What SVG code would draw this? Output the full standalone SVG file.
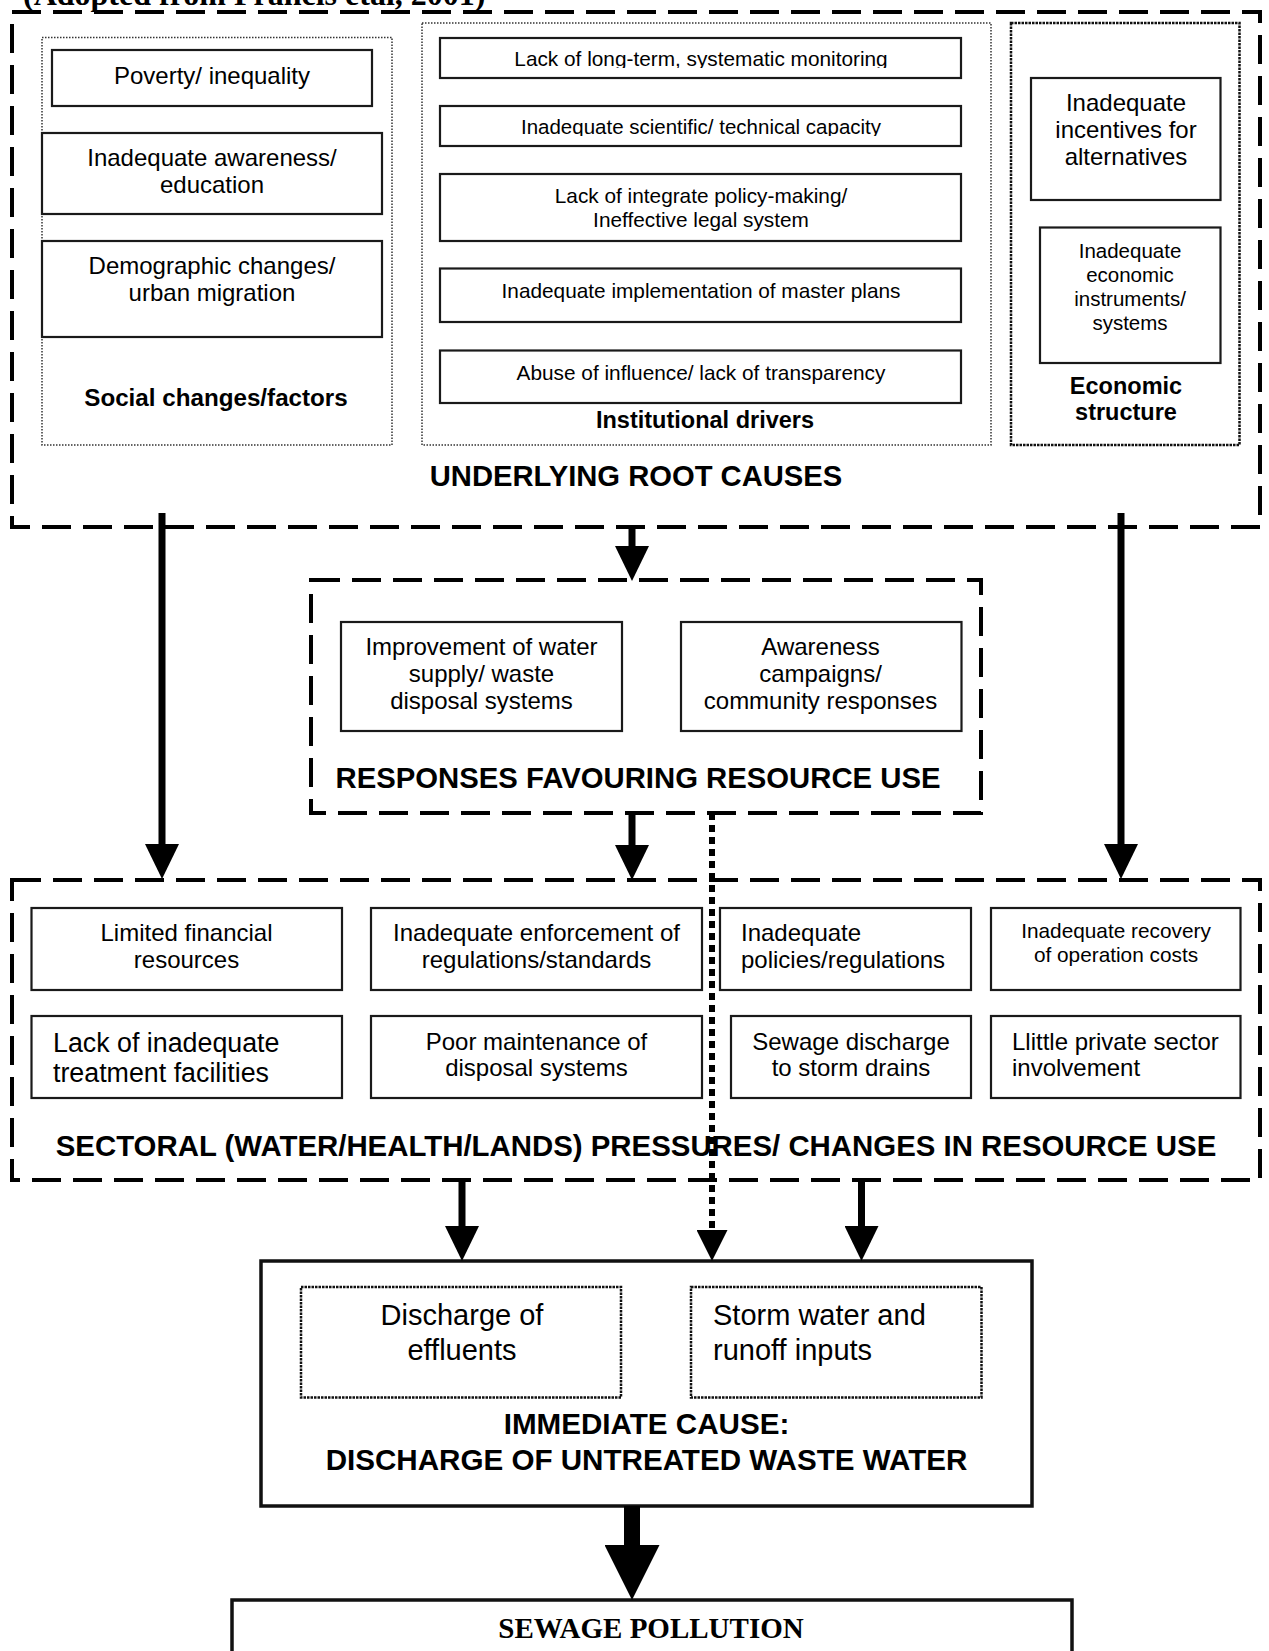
<svg xmlns="http://www.w3.org/2000/svg" width="1269" height="1651" viewBox="0 0 1269 1651">
<style>
.dash{fill:none;stroke:#000;stroke-width:4;stroke-dasharray:29 12}
.dot{fill:none;stroke:#333;stroke-width:1.5;stroke-dasharray:1.5 1.5}
.dot2{fill:none;stroke:#111;stroke-width:2.5;stroke-dasharray:2.5 1}
.box{fill:#fff;stroke:#1a1a1a;stroke-width:2.2}
.solid{fill:#fff;stroke:#111;stroke-width:3.5}
.t{font-family:"Liberation Sans",Arial,sans-serif;fill:#000}
.b{font-weight:bold}
.c{text-anchor:middle}
.shaft{stroke:#000;stroke-width:7;fill:none}
.dline{stroke:#000;stroke-width:6;stroke-dasharray:7 5;fill:none}
</style>
<defs>
<marker id="head" markerUnits="userSpaceOnUse" viewBox="0 0 35 34" refX="0" refY="17" markerWidth="35" markerHeight="34" orient="auto"><path d="M0,0 L35,17 L0,34 z" fill="#000"/></marker>
<marker id="headS" markerUnits="userSpaceOnUse" viewBox="0 0 31 31" refX="0" refY="15.5" markerWidth="31" markerHeight="31" orient="auto"><path d="M0,0 L31,15.5 L0,31 z" fill="#000"/></marker>
<marker id="headL" markerUnits="userSpaceOnUse" viewBox="0 0 55 55" refX="0" refY="27.5" markerWidth="55" markerHeight="55" orient="auto"><path d="M0,0 L55,27.5 L0,55 z" fill="#000"/></marker>
<clipPath id="clip1"><rect x="440" y="38" width="521" height="30"/></clipPath>
<clipPath id="clip2"><rect x="440" y="106" width="521" height="30"/></clipPath>
</defs>

<text x="23" y="5" font-family="'Liberation Serif','Times New Roman',serif" font-weight="bold" font-size="32">(Adopted from Francis etal, 2001)</text>

<g id="root-causes">
<rect class="dash" x="12" y="12" width="1248" height="515"/>
<text class="t b c" x="636" y="486" font-size="29.2">UNDERLYING ROOT CAUSES</text>
</g>

<g id="social">
<rect class="dot" x="42" y="37.5" width="350" height="407.5"/>
<text class="t b c" x="216" y="406" font-size="24.2">Social changes/factors</text>
</g>
<g id="poverty">
<rect class="box" x="52" y="50" width="320" height="56"/>
<text class="t c" x="212" y="84" font-size="24">Poverty/ inequality</text>
</g>
<g id="awareness">
<rect class="box" x="42" y="133" width="340" height="81"/>
<text class="t c" x="212" y="166" font-size="24">Inadequate awareness/</text>
<text class="t c" x="212" y="192.5" font-size="24">education</text>
</g>
<g id="demographic">
<rect class="box" x="42" y="241" width="340" height="96"/>
<text class="t c" x="212" y="274" font-size="24">Demographic changes/</text>
<text class="t c" x="212" y="301" font-size="24">urban migration</text>
</g>

<g id="institutional">
<rect class="dot" x="422" y="23" width="569" height="422"/>
<text class="t b c" x="705" y="428" font-size="23.5">Institutional drivers</text>
</g>
<g id="monitoring">
<rect class="box" x="440" y="38" width="521" height="40"/>
<text class="t c" x="701" y="66" font-size="20.8" clip-path="url(#clip1)">Lack of long-term, systematic monitoring</text>
</g>
<g id="capacity">
<rect class="box" x="440" y="106" width="521" height="40"/>
<text class="t c" x="701" y="134" font-size="20.5" clip-path="url(#clip2)">Inadequate scientific/ technical capacity</text>
</g>
<g id="policy">
<rect class="box" x="440" y="174" width="521" height="67"/>
<text class="t c" x="701" y="203" font-size="20.8">Lack of integrate policy-making/</text>
<text class="t c" x="701" y="227" font-size="20.8">Ineffective legal system</text>
</g>
<g id="masterplans">
<rect class="box" x="440" y="268.5" width="521" height="53.5"/>
<text class="t c" x="701" y="298" font-size="20.8">Inadequate implementation of master plans</text>
</g>
<g id="influence">
<rect class="box" x="440" y="350.5" width="521" height="52.5"/>
<text class="t c" x="701" y="380" font-size="20.8">Abuse of influence/ lack of transparency</text>
</g>

<g id="economic">
<rect class="dot2" x="1011" y="23" width="228.5" height="422"/>
<text class="t b c" x="1126" y="394" font-size="23.5">Economic</text>
<text class="t b c" x="1126" y="420" font-size="23.5">structure</text>
</g>
<g id="incentives">
<rect class="box" x="1031" y="78" width="189.5" height="122"/>
<text class="t c" x="1126" y="111" font-size="24">Inadequate</text>
<text class="t c" x="1126" y="138" font-size="24">incentives for</text>
<text class="t c" x="1126" y="165" font-size="24">alternatives</text>
</g>
<g id="instruments">
<rect class="box" x="1040" y="227.5" width="180.5" height="135.5"/>
<text class="t c" x="1130" y="258" font-size="20.5">Inadequate</text>
<text class="t c" x="1130" y="282" font-size="20.5">economic</text>
<text class="t c" x="1130" y="306" font-size="20.5">instruments/</text>
<text class="t c" x="1130" y="330" font-size="20.5">systems</text>
</g>

<g id="responses">
<rect class="dash" x="311" y="580" width="670" height="233"/>
<text class="t b c" x="638" y="788" font-size="29.3">RESPONSES FAVOURING RESOURCE USE</text>
</g>
<g id="improvement">
<rect class="box" x="341" y="622" width="281" height="109"/>
<text class="t c" x="481.5" y="655" font-size="24">Improvement of water</text>
<text class="t c" x="481.5" y="682" font-size="24">supply/ waste</text>
<text class="t c" x="481.5" y="709" font-size="24">disposal systems</text>
</g>
<g id="campaigns">
<rect class="box" x="681" y="622" width="280.5" height="109"/>
<text class="t c" x="820.5" y="655" font-size="24">Awareness</text>
<text class="t c" x="820.5" y="682" font-size="24">campaigns/</text>
<text class="t c" x="820.5" y="709" font-size="24">community responses</text>
</g>

<g id="sectoral">
<rect class="dash" x="12" y="880" width="1248" height="300"/>
<text class="t b c" x="636" y="1156" font-size="29.4">SECTORAL (WATER/HEALTH/LANDS) PRESSURES/ CHANGES IN RESOURCE USE</text>
</g>
<g id="financial">
<rect class="box" x="31.5" y="908" width="310.5" height="82"/>
<text class="t c" x="186.5" y="941" font-size="24">Limited financial</text>
<text class="t c" x="186.5" y="968" font-size="24">resources</text>
</g>
<g id="enforcement">
<rect class="box" x="371" y="908" width="331" height="82"/>
<text class="t c" x="536.5" y="941" font-size="24">Inadequate enforcement of</text>
<text class="t c" x="536.5" y="968" font-size="24">regulations/standards</text>
</g>
<g id="policies">
<rect class="box" x="720" y="908" width="251" height="82"/>
<text class="t" x="741" y="941" font-size="24">Inadequate</text>
<text class="t" x="741" y="968" font-size="24">policies/regulations</text>
</g>
<g id="recovery">
<rect class="box" x="991" y="908" width="249.5" height="82"/>
<text class="t c" x="1116" y="938" font-size="20.8">Inadequate recovery</text>
<text class="t c" x="1116" y="962" font-size="20.8">of operation costs</text>
</g>
<g id="treatment">
<rect class="box" x="31.5" y="1016" width="310.5" height="82"/>
<text class="t" x="53" y="1052" font-size="26.8">Lack of inadequate</text>
<text class="t" x="53" y="1082" font-size="26.8">treatment facilities</text>
</g>
<g id="maintenance">
<rect class="box" x="371" y="1016" width="331" height="82"/>
<text class="t c" x="536.5" y="1049.5" font-size="24">Poor maintenance of</text>
<text class="t c" x="536.5" y="1076" font-size="24">disposal systems</text>
</g>
<g id="stormdrains">
<rect class="box" x="731" y="1016" width="240" height="82"/>
<text class="t c" x="851" y="1049.5" font-size="24">Sewage discharge</text>
<text class="t c" x="851" y="1076" font-size="24">to storm drains</text>
</g>
<g id="private">
<rect class="box" x="991" y="1016" width="249.5" height="82"/>
<text class="t" x="1012" y="1049.5" font-size="24">Llittle private sector</text>
<text class="t" x="1012" y="1076" font-size="24">involvement</text>
</g>

<g id="immediate">
<rect class="solid" x="261" y="1261" width="771" height="245"/>
<text class="t b c" x="646.5" y="1434" font-size="29.6">IMMEDIATE CAUSE:</text>
<text class="t b c" x="646.5" y="1470" font-size="29.6">DISCHARGE OF UNTREATED WASTE WATER</text>
</g>
<g id="effluents">
<rect class="dot2" x="301" y="1287" width="320" height="110.5"/>
<text class="t c" x="462" y="1325" font-size="29">Discharge of</text>
<text class="t c" x="462" y="1360" font-size="29">effluents</text>
</g>
<g id="stormwater">
<rect class="dot2" x="691" y="1287" width="290.5" height="110.5"/>
<text class="t" x="713" y="1325" font-size="29">Storm water and</text>
<text class="t" x="713" y="1360" font-size="29">runoff inputs</text>
</g>

<g id="sewage">
<rect class="solid" x="232" y="1600" width="840" height="120"/>
<text x="651" y="1638" font-family="'Liberation Serif','Times New Roman',serif" font-weight="bold" font-size="29" text-anchor="middle">SEWAGE POLLUTION</text>
</g>

<g id="connectors">
<path class="shaft" d="M162,513 V844" marker-end="url(#head)"/>
<path class="shaft" d="M1121,513 V844" marker-end="url(#head)"/>
<path class="shaft" d="M632,527 V546" marker-end="url(#head)"/>
<path class="shaft" d="M632,813 V845" marker-end="url(#head)"/>
<path class="dline" d="M712,813 V1230" marker-end="url(#headS)"/>
<path class="shaft" d="M462,1180 V1226" marker-end="url(#head)"/>
<path class="shaft" d="M861.5,1180 V1226" marker-end="url(#head)"/>
<path stroke="#000" stroke-width="16" fill="none" d="M632,1506 V1545" marker-end="url(#headL)"/>
</g>
</svg>
